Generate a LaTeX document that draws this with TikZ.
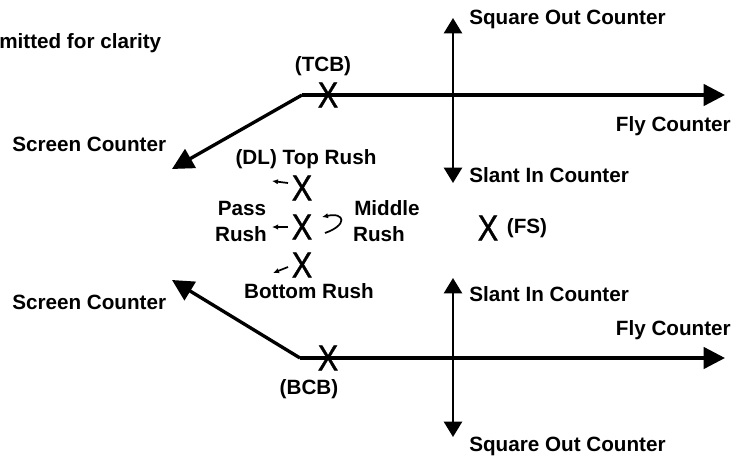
\documentclass[tikz,border=0pt]{standalone}
\usepackage{fontspec}
\setmainfont{Liberation Sans}
\newfontfamily\xfont{Liberation Sans}[FakeBold=1.2]
\usetikzlibrary{arrows.meta}
\tikzset{
  lbl/.style={font=\fontsize{15.5}{18}\selectfont\bfseries, inner sep=0pt},
  xmark/.style={font=\xfont\fontsize{27}{29}\selectfont, inner sep=0pt, xscale=0.85},
  mainline/.style={line width=2.5pt, -{Triangle[length=16pt,width=16pt]}},
  axis/.style={line width=1.8pt, {Triangle[length=11.5pt,width=13.5pt]}-{Triangle[length=11.5pt,width=13.5pt]}},
  small/.style={line width=1.3pt, -{Latex[length=4.5pt,width=4pt]}}
}
\begin{document}
\begin{tikzpicture}[x=0.75pt,y=-0.75pt]
\useasboundingbox (0,0) rectangle (736,457);
% caption fragment
\node[lbl, anchor=west] (cap) at (-1,43) {mitted for clarity};

% ---- top group
\coordinate (tc) at (302,95);
\coordinate (tr) at (725,95);
\coordinate (tl) at (172,169);
\draw[mainline] (tc) -- (tr);
\draw[mainline] (tc) -- (tl);
\node[xmark] (tcb) at (328,95) {X};
\node[lbl] (tcblbl) at (323,66) {(TCB)};
\node[lbl, anchor=west] (sc1) at (12,144) {Screen Counter};
\node[lbl, anchor=east] (fc1) at (731,126) {Fly Counter};
\coordinate (v1t) at (453,18);
\coordinate (v1b) at (453,183);
\draw[axis] (v1t) -- (v1b);
\node[lbl, anchor=west] (sq1) at (469,19) {Square Out Counter};
\node[lbl, anchor=west] (sl1) at (469,175) {Slant In Counter};

% ---- defensive line
\node[lbl] (dl) at (306,159) {(DL) Top Rush};
\node[xmark] (x1) at (302,188) {X};
\node[xmark] (x2) at (302,227) {X};
\node[xmark] (x3) at (302,265) {X};
\coordinate (a1s) at (288,183); \coordinate (a1e) at (272,181);
\coordinate (a2s) at (288,227); \coordinate (a2e) at (272,227);
\coordinate (a3s) at (288,267); \coordinate (a3e) at (273,273);
\draw[small] (a1s) -- (a1e);
\draw[small] (a2s) -- (a2e);
\draw[small] (a3s) -- (a3e);
\coordinate (cs) at (325,233);
\coordinate (ce) at (322,217);
\draw[small] (cs) .. controls (348,225) and (345,212) .. (ce);
\node[lbl] (pass) at (242,208) {Pass};
\node[lbl] (prush) at (241,234) {Rush};
\node[lbl] (mid) at (387,208) {Middle};
\node[lbl] (mrush) at (379,234) {Rush};
\node[lbl] (bot) at (309,291) {Bottom Rush};

% ---- free safety
\node[xmark] (fs) at (488,228) {X};
\node[lbl] (fslbl) at (527,228) {(FS)};

% ---- bottom group
\coordinate (bc) at (300,358);
\coordinate (br) at (725,358);
\coordinate (bl) at (172,280);
\draw[mainline] (bc) -- (br);
\draw[mainline] (bc) -- (bl);
\node[xmark] (bcb) at (328,358) {X};
\node[lbl] (bcblbl) at (309,389) {(BCB)};
\node[lbl, anchor=west] (sc2) at (12,302) {Screen Counter};
\node[lbl, anchor=east] (fc2) at (731,330) {Fly Counter};
\coordinate (v2t) at (453,278);
\coordinate (v2b) at (453,437);
\draw[axis] (v2t) -- (v2b);
\node[lbl, anchor=west] (sl2) at (469,294) {Slant In Counter};
\node[lbl, anchor=west] (sq2) at (469,446) {Square Out Counter};
\end{tikzpicture}
\end{document}
